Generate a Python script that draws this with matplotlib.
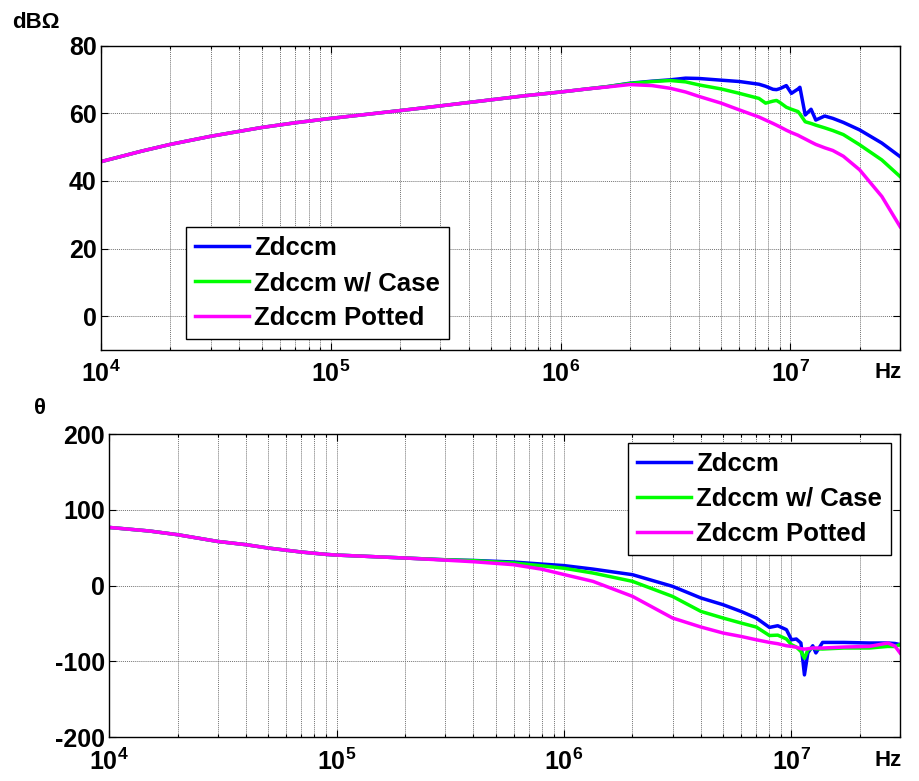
import matplotlib
matplotlib.use('Agg')
import numpy as np
import matplotlib.pyplot as plt
from matplotlib.ticker import FuncFormatter, NullFormatter, LogLocator

plt.rcParams['font.family'] = ['Liberation Sans', 'DejaVu Sans']
plt.rcParams['font.weight'] = 'bold'
plt.rcParams['axes.unicode_minus'] = False
plt.rcParams['mathtext.fontset'] = 'custom'
plt.rcParams['mathtext.rm'] = 'Liberation Sans:bold'
plt.rcParams['mathtext.bf'] = 'Liberation Sans:bold'

# magnitude (dB ohm)
freq_mag = [1e4, 1.5e4, 2e4, 3e4, 5e4, 7e4, 1e5, 2e5, 3e5, 5e5, 7e5, 1e6, 1.3e6,
            1.6e6, 2e6, 2.5e6, 3e6, 3.5e6, 4e6, 5e6, 6e6, 7.3e6, 7.8e6, 8.4e6,
            8.7e6, 9e6, 9.6e6, 1.01e7, 1.08e7, 1.1e7, 1.16e7, 1.23e7, 1.29e7,
            1.41e7, 1.53e7, 1.7e7, 2e7, 2.5e7, 3e7]
mag_zdccm = [45.7, 48.8, 50.8, 53.2, 55.8, 57.2, 58.5, 60.8, 62.2, 64.0, 65.2, 66.3, 67.2,
             67.9, 68.9, 69.5, 69.9, 70.4, 70.3, 69.8, 69.4, 68.6, 68.0, 67.1,
             67.0, 67.3, 68.2, 65.9, 67.2, 67.7, 59.5, 61.2, 58.0,
             59.2, 58.5, 57.3, 55.1, 51.2, 47.2]
mag_case = [45.7, 48.8, 50.8, 53.2, 55.8, 57.2, 58.5, 60.8, 62.2, 64.0, 65.2, 66.3, 67.2,
            67.9, 68.8, 69.4, 69.7, 69.3, 68.4, 67.2, 65.9, 64.4, 63.0, 63.6,
            63.8, 63.2, 61.8, 61.2, 60.5, 59.8, 57.5, 57.0, 56.5,
            55.7, 54.9, 53.7, 50.7, 46.2, 41.3]
mag_potted = [45.7, 48.8, 50.8, 53.2, 55.8, 57.2, 58.5, 60.8, 62.2, 64.0, 65.2, 66.3, 67.2,
              67.8, 68.5, 68.2, 67.4, 66.3, 65.0, 63.0, 61.0, 58.9, 58.0, 57.0,
              56.5, 56.0, 55.0, 54.3, 53.5, 53.2, 52.4, 51.5, 50.8,
              49.8, 49.0, 47.3, 43.3, 35.4, 26.5]

# phase (deg)
freq_ph = [1e4, 1.5e4, 2e4, 3e4, 4e4, 5e4, 7e4, 9e4, 1e5, 2e5, 3e5, 4e5, 6e5, 8e5,
           1e6, 1.34e6, 2e6, 3e6, 4e6, 5e6, 6e6, 7e6, 8e6, 8.7e6, 9.5e6, 1e7,
           1.05e7, 1.1e7, 1.14e7, 1.18e7, 1.24e7, 1.28e7, 1.37e7, 1.7e7, 2.2e7,
           2.65e7, 2.85e7, 3e7]
ph_zdccm = [76.7, 72.0, 67.1, 58.2, 53.9, 49.5, 44.2, 41.1, 40.2, 36.3, 34.0, 33.1, 31.0, 28.3,
            26.3, 21.7, 14.3, -1.1, -16.5, -25.3, -34.2, -42.9, -55.3, -53.1, -58.3, -71.6,
            -70.6, -75.9, -118.0, -89.0, -79.5, -89.0, -75.1, -75.1, -75.9,
            -75.9, -76.5, -78.0]
ph_case = [76.7, 72.0, 67.1, 58.2, 53.9, 49.5, 44.2, 41.1, 40.2, 36.3, 34.0, 32.8, 29.7, 26.0,
           22.8, 16.5, 5.5, -14.4, -34.2, -42.9, -49.5, -54.8, -66.0, -65.5, -70.6, -78.2,
           -81.2, -87.0, -96.0, -85.0, -82.5, -83.5, -83.8, -82.5, -82.5,
           -80.4, -80.5, -78.0]
ph_potted = [76.7, 72.0, 67.1, 58.2, 53.9, 49.5, 44.2, 41.1, 40.2, 36.3, 33.5, 31.4, 27.5, 21.5,
             14.5, 5.5, -14.3, -42.9, -54.8, -62.7, -67.2, -71.6, -75.1, -76.8, -79.5, -80.4,
             -81.5, -83.4, -84.0, -83.5, -82.5, -82.5, -82.5, -81.2, -80.4,
             -75.9, -80.0, -89.0]

labels = ['Zdccm', 'Zdccm w/ Case', 'Zdccm Potted']
colors = ['#0000ff', '#00ff00', '#ff00ff']

FS = 18
LEG_FS = 18.5


def decade_label(x, pos):
    e = int(round(np.log10(x)))
    return r'$\mathbf{10^{%d}}$' % e


fig = plt.figure(figsize=(9.2, 7.81), dpi=100)
ax1 = fig.add_axes([0.1098, 0.5519, 0.8685, 0.3896])
ax2 = fig.add_axes([0.1185, 0.0563, 0.8598, 0.3880])

for ax, f, series in [(ax1, freq_mag, [mag_zdccm, mag_case, mag_potted]),
                      (ax2, freq_ph, [ph_zdccm, ph_case, ph_potted])]:
    for ys, c, lab in zip(series, colors, labels):
        ax.plot(f, ys, color=c, lw=2.5, label=lab)
    ax.set_xscale('log')
    ax.set_xlim(1e4, 3e7)
    ax.xaxis.set_major_locator(LogLocator(base=10))
    ax.xaxis.set_minor_locator(LogLocator(base=10, subs=range(2, 10)))
    ax.xaxis.set_major_formatter(FuncFormatter(decade_label))
    ax.xaxis.set_minor_formatter(NullFormatter())
    ax.grid(True, which='major', color='0.45', lw=0.7, ls=(0, (1, 1)))
    ax.grid(True, which='minor', axis='x', color='0.45', lw=0.7, ls=(0, (1, 1)))
    ax.tick_params(which='both', direction='in', top=True, right=True, width=0.8)
    ax.tick_params(which='major', length=5)
    ax.tick_params(which='minor', length=2.5)
    ax.tick_params(axis='x', labelsize=FS, pad=8)
    ax.tick_params(axis='y', labelsize=FS, pad=3)
    for sp in ax.spines.values():
        sp.set_linewidth(1.0)
    ax.set_axisbelow(True)

ax1.set_ylim(-10, 80)
ax1.set_yticks([0, 20, 40, 60, 80])
ax2.set_ylim(-200, 200)
ax2.set_yticks([-200, -100, 0, 100, 200])

leg_kw = dict(fontsize=LEG_FS, handlelength=2.1, handletextpad=0.2, labelspacing=0.42,
              borderpad=0.35, borderaxespad=0, fancybox=False, framealpha=1,
              edgecolor='black')
leg1 = ax1.legend(loc='lower left', bbox_to_anchor=(0.106, 0.036), **leg_kw)
leg2 = ax2.legend(loc='upper right', bbox_to_anchor=(0.9886, 0.970), **leg_kw)
for leg in (leg1, leg2):
    leg.get_frame().set_linewidth(1.0)

fig.text(12 / 920, 1 - 22.5 / 781, 'dBΩ', fontsize=16, fontweight='bold', va='center', ha='left')
fig.text(34 / 920, 1 - 409 / 781, 'θ', fontsize=16, fontweight='bold', va='center', ha='left')
fig.text(875 / 920, 1 - 373 / 781, 'Hz', fontsize=16, fontweight='bold', va='center', ha='left')
fig.text(875 / 920, 1 - 760 / 781, 'Hz', fontsize=16, fontweight='bold', va='center', ha='left')

fig.savefig('out.png', dpi=100)
